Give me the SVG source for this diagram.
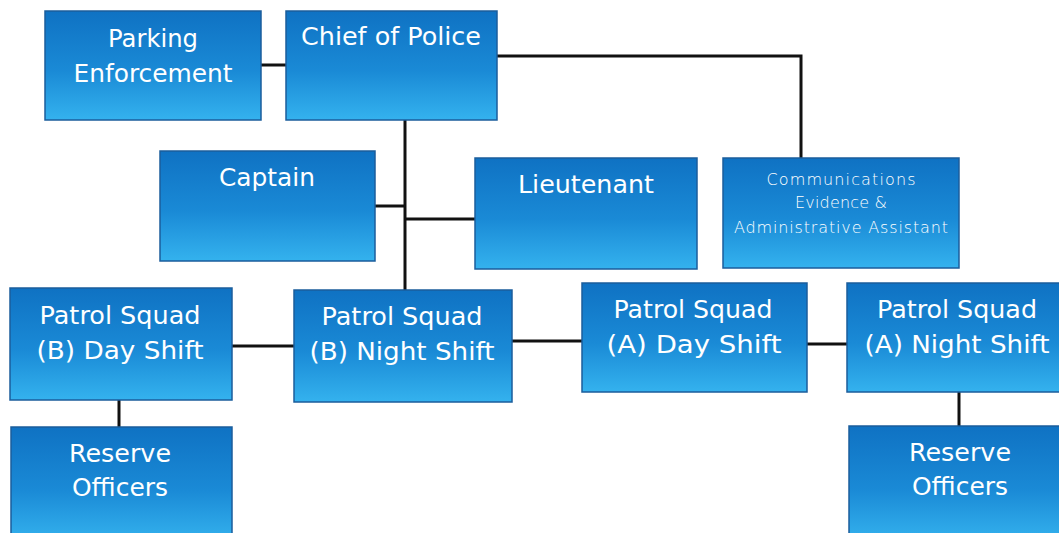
<svg xmlns="http://www.w3.org/2000/svg" width="1059" height="533" viewBox="0 0 1059 533">
<defs>
<linearGradient id="g" x1="0" y1="0" x2="0" y2="1">
<stop offset="0" stop-color="#0f72c3"/>
<stop offset="0.55" stop-color="#1a8ad6"/>
<stop offset="1" stop-color="#34b2ee"/>
</linearGradient>
<style>
.box{fill:url(#g);stroke:#1b5d9c;stroke-width:1.5}
.t{font-family:"DejaVu Sans","Open Sans",sans-serif;font-size:25px;fill:#ffffff;text-anchor:middle}
.s{font-family:"DejaVu Sans","Open Sans",sans-serif;font-size:16px;fill:#ffffff;text-anchor:middle;font-weight:300}
.c{stroke:#111111;stroke-width:3;fill:none}
</style>
</defs>
<rect width="1059" height="533" fill="#ffffff"/>
<g id="connectors">
<line class="c" x1="261" y1="65" x2="286" y2="65"/>
<polyline class="c" points="497,56 801,56 801,158"/>
<line class="c" x1="405" y1="120" x2="405" y2="290"/>
<line class="c" x1="375" y1="206" x2="405" y2="206"/>
<line class="c" x1="405" y1="219" x2="475" y2="219"/>
<line class="c" x1="232" y1="346" x2="294" y2="346"/>
<line class="c" x1="512" y1="341" x2="582" y2="341"/>
<line class="c" x1="807" y1="344" x2="847" y2="344"/>
<line class="c" x1="119" y1="400" x2="119" y2="427"/>
<line class="c" x1="959" y1="392" x2="959" y2="426"/>
</g>
<g id="parking">
<rect class="box" x="45" y="11" width="216" height="109"/>
<text class="t" x="153" y="47" textLength="90" lengthAdjust="spacingAndGlyphs">Parking</text>
<text class="t" x="153" y="82" textLength="159" lengthAdjust="spacingAndGlyphs">Enforcement</text>
</g>
<g id="chief">
<rect class="box" x="286" y="11" width="211" height="109"/>
<text class="t" x="391" y="45" textLength="180" lengthAdjust="spacingAndGlyphs">Chief of Police</text>
</g>
<g id="captain">
<rect class="box" x="160" y="151" width="215" height="110"/>
<text class="t" x="267" y="186" textLength="96" lengthAdjust="spacingAndGlyphs">Captain</text>
</g>
<g id="lieutenant">
<rect class="box" x="475" y="158" width="222" height="111"/>
<text class="t" x="586" y="193" textLength="136" lengthAdjust="spacingAndGlyphs">Lieutenant</text>
</g>
<g id="comms">
<rect class="box" x="723" y="158" width="236" height="110"/>
<text class="s" x="841" y="185" textLength="149">Communications</text>
<text class="s" x="841" y="208" textLength="92">Evidence &amp;</text>
<text class="s" x="841" y="233" textLength="214">Administrative Assistant</text>
</g>
<g id="patrol-b-day">
<rect class="box" x="10" y="288" width="222" height="112"/>
<text class="t" x="120" y="324" textLength="161" lengthAdjust="spacingAndGlyphs">Patrol Squad</text>
<text class="t" x="120" y="359" textLength="167" lengthAdjust="spacingAndGlyphs">(B) Day Shift</text>
</g>
<g id="patrol-b-night">
<rect class="box" x="294" y="290" width="218" height="112"/>
<text class="t" x="402" y="325" textLength="161" lengthAdjust="spacingAndGlyphs">Patrol Squad</text>
<text class="t" x="402" y="360" textLength="185" lengthAdjust="spacingAndGlyphs">(B) Night Shift</text>
</g>
<g id="patrol-a-day">
<rect class="box" x="582" y="283" width="225" height="109"/>
<text class="t" x="693" y="318" textLength="159" lengthAdjust="spacingAndGlyphs">Patrol Squad</text>
<text class="t" x="694" y="353" textLength="175" lengthAdjust="spacingAndGlyphs">(A)  Day Shift</text>
</g>
<g id="patrol-a-night">
<rect class="box" x="847" y="283" width="220" height="109"/>
<text class="t" x="957" y="318" textLength="160" lengthAdjust="spacingAndGlyphs">Patrol Squad</text>
<text class="t" x="957" y="353" textLength="185" lengthAdjust="spacingAndGlyphs">(A) Night Shift</text>
</g>
<g id="reserve-b">
<rect class="box" x="11" y="427" width="221" height="115"/>
<text class="t" x="120" y="462" textLength="102" lengthAdjust="spacingAndGlyphs">Reserve</text>
<text class="t" x="120" y="496" textLength="96" lengthAdjust="spacingAndGlyphs">Officers</text>
</g>
<g id="reserve-a">
<rect class="box" x="849" y="426" width="218" height="116"/>
<text class="t" x="960" y="461" textLength="102" lengthAdjust="spacingAndGlyphs">Reserve</text>
<text class="t" x="960" y="495" textLength="96" lengthAdjust="spacingAndGlyphs">Officers</text>
</g>
</svg>
